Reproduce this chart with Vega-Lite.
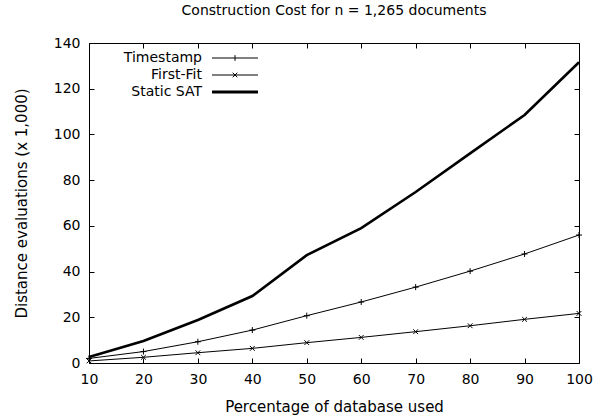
{
  "$schema": "https://vega.github.io/schema/vega-lite/v6.json",
  "width": 490,
  "height": 320,
  "autosize": {"type": "none"},
  "padding": {"left": 89, "top": 43, "right": 24, "bottom": 56},
  "background": "white",
  "title": {"text": "Construction Cost for n = 1,265 documents", "font": "DejaVu Sans", "fontSize": 14, "fontWeight": "normal", "color": "black", "offset": 18, "anchor": "middle"},
  "config": {
    "view": {"stroke": "black", "strokeWidth": 1},
    "axis": {"domain": false, "ticks": false, "gridColor": "black", "gridOpacity": 1, "gridWidth": 1, "labelColor": "black", "titleColor": "black", "labelFont": "DejaVu Sans", "titleFont": "DejaVu Sans", "labelFontSize": 14, "titleFontSize": 15, "titleFontWeight": "normal", "labelPadding": 9}
  },
  "data": {"values": [
    {"pct": 10, "series": "Timestamp", "v": 2.0},
    {"pct": 20, "series": "Timestamp", "v": 5.0},
    {"pct": 30, "series": "Timestamp", "v": 9.3},
    {"pct": 40, "series": "Timestamp", "v": 14.4},
    {"pct": 50, "series": "Timestamp", "v": 20.7},
    {"pct": 60, "series": "Timestamp", "v": 26.7},
    {"pct": 70, "series": "Timestamp", "v": 33.2},
    {"pct": 80, "series": "Timestamp", "v": 40.2},
    {"pct": 90, "series": "Timestamp", "v": 47.7},
    {"pct": 100, "series": "Timestamp", "v": 56.0},
    {"pct": 10, "series": "First-Fit", "v": 0.9},
    {"pct": 20, "series": "First-Fit", "v": 2.5},
    {"pct": 30, "series": "First-Fit", "v": 4.5},
    {"pct": 40, "series": "First-Fit", "v": 6.4},
    {"pct": 50, "series": "First-Fit", "v": 8.9},
    {"pct": 60, "series": "First-Fit", "v": 11.2},
    {"pct": 70, "series": "First-Fit", "v": 13.7},
    {"pct": 80, "series": "First-Fit", "v": 16.3},
    {"pct": 90, "series": "First-Fit", "v": 19.1},
    {"pct": 100, "series": "First-Fit", "v": 21.7},
    {"pct": 10, "series": "Static SAT", "v": 2.6},
    {"pct": 20, "series": "Static SAT", "v": 9.6},
    {"pct": 30, "series": "Static SAT", "v": 18.8},
    {"pct": 40, "series": "Static SAT", "v": 29.3},
    {"pct": 50, "series": "Static SAT", "v": 47.2},
    {"pct": 60, "series": "Static SAT", "v": 59.0},
    {"pct": 70, "series": "Static SAT", "v": 74.8},
    {"pct": 80, "series": "Static SAT", "v": 91.7},
    {"pct": 90, "series": "Static SAT", "v": 108.5},
    {"pct": 100, "series": "Static SAT", "v": 131.6}
  ]},
  "encoding": {
    "x": {"field": "pct", "type": "quantitative", "scale": {"domain": [10, 100], "nice": false, "zero": false}, "axis": {"values": [10,20,30,40,50,60,70,80,90,100], "title": "Percentage of database used", "titlePadding": 13, "labelFlush": false, "grid": true, "gridDash": [5, 310, 5, 0]}},
    "y": {"field": "v", "type": "quantitative", "scale": {"domain": [0, 140], "nice": false}, "axis": {"values": [0,20,40,60,80,100,120,140], "title": "Distance evaluations (x 1,000)", "titlePadding": 24, "grid": true, "gridDash": [5, 480, 5, 0]}}
  },
  "layer": [
    {
      "transform": [{"filter": "datum.series !== 'Static SAT'"}],
      "mark": {"type": "line", "strokeWidth": 1},
      "encoding": {
        "color": {"field": "series", "type": "nominal", "scale": {"domain": ["Timestamp", "First-Fit", "Static SAT"], "range": ["black", "black", "black"]},
          "legend": {"title": null, "orient": "none", "legendX": 139, "legendY": 8, "padding": 0, "symbolSize": 132, "labelAlign": "right", "labelOffset": -40, "rowPadding": 3, "labelFont": "DejaVu Sans", "labelFontSize": 14, "labelColor": "black",
            "encode": {"symbols": {"update": {
              "shape": {"signal": "datum.value === 'Timestamp' ? 'M-4,0H4M0,-0.5V0.5' : datum.value === 'First-Fit' ? 'M-4,0H4M-0.4,-0.4L0.4,0.4M-0.4,0.4L0.4,-0.4' : 'M-4,0H4'"},
              "strokeWidth": {"signal": "datum.value === 'Static SAT' ? 3 : 1"},
              "stroke": {"value": "black"},
              "fill": {"value": "transparent"},
              "opacity": {"value": 1}
            }}}
          }},
        "detail": {"field": "series"}
      }
    },
    {
      "transform": [{"filter": "datum.series === 'Static SAT'"}],
      "mark": {"type": "line", "strokeWidth": 2.6},
      "encoding": {
        "color": {"field": "series", "type": "nominal"}
      }
    },
    {
      "transform": [{"filter": "datum.series !== 'Static SAT'"}],
      "mark": {"type": "point", "filled": false, "stroke": "black", "strokeWidth": 1, "size": 36, "opacity": 1},
      "encoding": {
        "shape": {"field": "series", "type": "nominal", "scale": {"domain": ["Timestamp", "First-Fit"], "range": ["M-1,0H1M0,-1V1", "M-0.8,-0.8L0.8,0.8M-0.8,0.8L0.8,-0.8"]}, "legend": null}
      }
    }
  ]
}
